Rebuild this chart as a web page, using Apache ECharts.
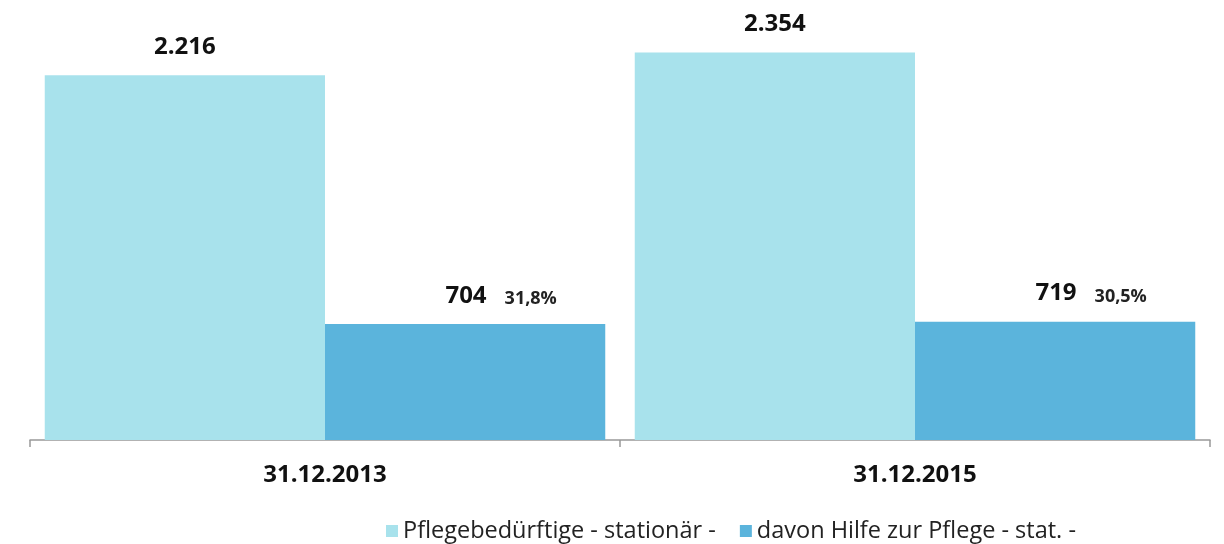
<!DOCTYPE html>
<html>
<head>
<meta charset="utf-8">
<script src="https://cdn.jsdelivr.net/npm/echarts@6/dist/echarts.min.js"></script>
<style>html,body{margin:0;padding:0;background:#fff}#c{width:1224px;height:544px}</style>
</head>
<body>
<div id="c"></div>
<script>
var categories = ['31.12.2013', '31.12.2015'];
var seriesNames = ['Pflegebedürftige - stationär -', 'davon Hilfe zur Pflege - stat. -'];
var stationaer = [2216, 2354];
var hilfe = [704, 719];
var percents = ['31,8%', '30,5%'];

function fmt(v) {
  return String(v).replace(/\B(?=(\d{3})+(?!\d))/g, '.');
}

var font = 'Open Sans';
var chart = echarts.init(document.getElementById('c'));
chart.setOption({
  animation: false,
  textStyle: { fontFamily: font },
  grid: { left: 30, right: 14, top: 12, bottom: 104 },
  legend: {
    left: 381, top: 514,
    itemWidth: 12, itemHeight: 12, itemGap: 24,
    icon: 'rect',
    textStyle: { fontFamily: font, fontSize: 23.5, color: '#222' },
    data: seriesNames
  },
  xAxis: {
    type: 'category',
    data: categories,
    axisLine: { lineStyle: { color: '#999', width: 1.5 } },
    axisTick: { show: true, length: 7, lineStyle: { color: '#999', width: 1.5 } },
    axisLabel: { fontFamily: font, fontSize: 24, fontWeight: 'bold', color: '#111', margin: 23 }
  },
  yAxis: {
    type: 'value', min: 0, max: 2600,
    show: false, splitLine: { show: false }
  },
  series: [
    {
      name: seriesNames[0], type: 'bar', data: stationaer,
      barGap: '0%', barCategoryGap: '5%',
      itemStyle: { color: '#A8E2EC' },
      label: {
        show: true, position: 'top', distance: 16,
        fontFamily: font, fontSize: 24, fontWeight: 'bold', color: '#111',
        formatter: function (p) { return fmt(p.value); }
      }
    },
    {
      name: seriesNames[1], type: 'bar', data: hilfe,
      itemStyle: { color: '#5BB4DC' },
      label: {
        show: true, position: 'top', distance: 16,
        formatter: function (p) {
          return '{pad|}{v|' + fmt(p.value) + '}{p|' + percents[p.dataIndex] + '}';
        },
        rich: {
          pad: { width: 72, height: 10 },
          v: { fontFamily: font, fontSize: 24, fontWeight: 'bold', color: '#111', verticalAlign: 'bottom', lineHeight: 30 },
          p: { fontFamily: font, fontSize: 18, fontWeight: 'bold', color: '#222', padding: [0, 0, 0, 18], verticalAlign: 'bottom', lineHeight: 26 }
        }
      }
    }
  ]
});
</script>
</body>
</html>
